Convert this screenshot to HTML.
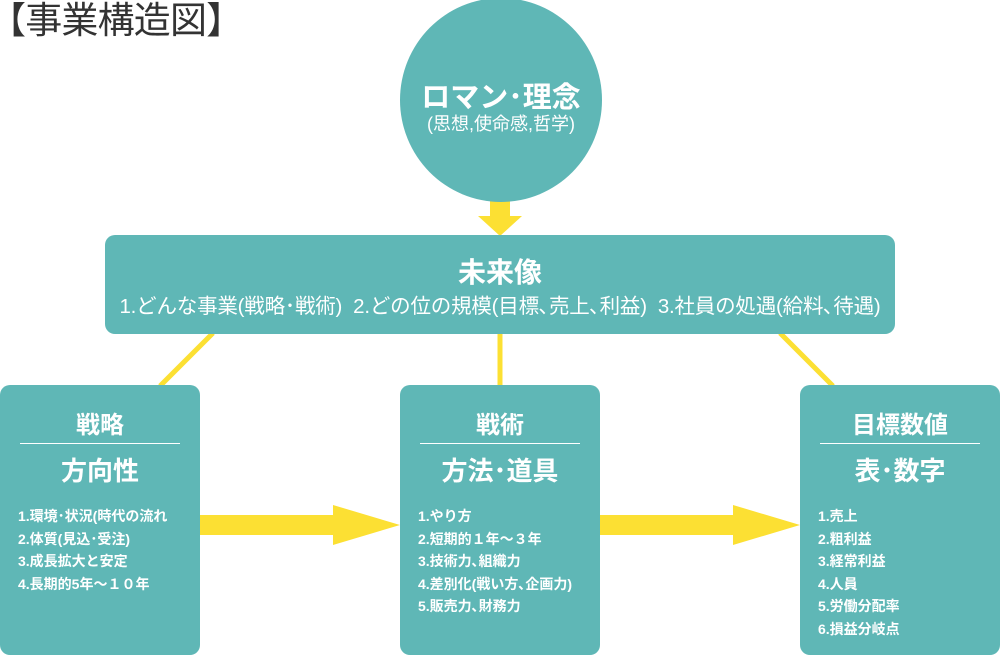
<!DOCTYPE html>
<html><head><meta charset="utf-8"><style>
body{margin:0;width:1000px;height:655px;position:relative;background:#fff;font-family:"Liberation Sans","Noto Sans CJK JP",sans-serif;overflow:hidden}
.t{position:absolute;left:-11px;top:-2px;font-size:37px;color:#333;line-height:46px;letter-spacing:-0.8px}
.c{position:absolute;left:400px;top:-2px;width:202px;height:204px;border-radius:50%;background:#5fb7b6;color:#fff;text-align:center}
.bx{position:absolute;background:#5fb7b6;border-radius:10px;color:#fff}
.h1{position:absolute;left:20px;right:20px;text-align:center;font-weight:bold}
.dv{position:absolute;left:20px;right:20px;top:58px;border-top:1px solid #fff}
.ls{position:absolute;left:18px;top:120px;font-size:14px;font-weight:bold;line-height:22.5px;white-space:nowrap}
</style></head><body>
<div class="t">【事業構造図】</div>
<svg width="1000" height="655" style="position:absolute;left:0;top:0">
<g fill="#fce033" stroke="none">
<rect x="490" y="198" width="20" height="20"/><polygon points="478,216 522,216 500,236"/>
<rect x="200" y="515" width="135" height="20"/><polygon points="333,505 400,525 333,545"/>
<rect x="600" y="515" width="135" height="20"/><polygon points="733,505 800,525 733,545"/>
</g>
<g stroke="#fce033" stroke-width="5">
<line x1="213" y1="333" x2="160" y2="386"/><line x1="500" y1="333" x2="500" y2="386"/><line x1="780" y1="333" x2="833" y2="386"/>
</g></svg>
<div class="c"><div style="position:absolute;top:76px;width:100%;font-size:29px;font-weight:bold">ロマン･理念</div><div style="position:absolute;top:112px;width:100%;font-size:18px">(思想,使命感,哲学)</div></div>
<div class="bx" style="left:105px;top:235px;width:790px;height:99px;text-align:center">
<div style="position:absolute;top:16px;width:100%;font-size:28px;font-weight:bold">未来像</div>
<div style="position:absolute;top:54px;width:100%;font-size:20.5px;white-space:nowrap;letter-spacing:-0.2px">1.どんな事業(戦略･戦術)&nbsp; 2.どの位の規模(目標､売上､利益)&nbsp; 3.社員の処遇(給料､待遇)</div></div>
<div class="bx" style="left:0;top:385px;width:200px;height:270px">
<div class="h1" style="top:20px;font-size:24px">戦略</div><div class="dv"></div><div class="h1" style="top:66px;font-size:26px">方向性</div>
<div class="ls">1.環境･状況(時代の流れ<br>2.体質(見込･受注)<br>3.成長拡大と安定<br>4.長期的5年～１０年</div></div>
<div class="bx" style="left:400px;top:385px;width:200px;height:270px">
<div class="h1" style="top:20px;font-size:24px">戦術</div><div class="dv"></div><div class="h1" style="top:66px;font-size:26px">方法･道具</div>
<div class="ls">1.やり方<br>2.短期的１年～３年<br>3.技術力､組織力<br>4.差別化(戦い方､企画力)<br>5.販売力､財務力</div></div>
<div class="bx" style="left:800px;top:385px;width:200px;height:270px">
<div class="h1" style="top:20px;font-size:24px">目標数値</div><div class="dv"></div><div class="h1" style="top:66px;font-size:26px">表･数字</div>
<div class="ls">1.売上<br>2.粗利益<br>3.経常利益<br>4.人員<br>5.労働分配率<br>6.損益分岐点</div></div>
</body></html>
